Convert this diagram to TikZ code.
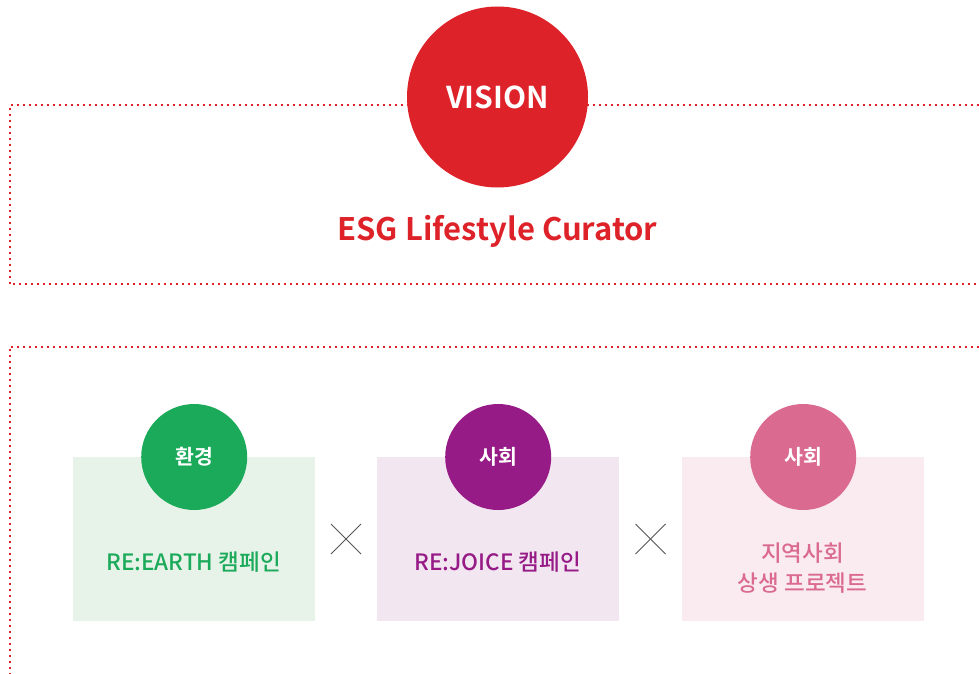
\documentclass[tikz,border=0pt]{standalone}
\usepackage{fontspec}
\setmainfont{Noto Sans CJK KR}[BoldFont={Noto Sans CJK KR Bold}]
\newfontfamily\krmed{Noto Sans CJK KR Medium}
\definecolor{vred}{HTML}{DE2229}
\definecolor{cgreen}{HTML}{1BAA5A}
\definecolor{cpurple}{HTML}{961B86}
\definecolor{cpink}{HTML}{DB6A90}
\definecolor{fgreen}{HTML}{E7F3E9}
\definecolor{fpurple}{HTML}{F2E6F1}
\definecolor{fpink}{HTML}{F9EBEF}
\definecolor{xgray}{HTML}{555555}
\begin{document}
\begin{tikzpicture}[x=1pt,y=-1pt,
  dotline/.style={vred,line width=2pt,dash pattern=on 2pt off 4pt},
  catbox/.style={rectangle,minimum width=242pt,minimum height=164pt,inner sep=0pt,anchor=north west},
  catcircle/.style={circle,minimum size=106pt,inner sep=0pt,text=white,font=\fontsize{20.5}{24}\selectfont\bfseries},
  catlabel/.style={font=\fontsize{22.5}{30}\krmed,align=center},
  crossmark/.style={xgray,line width=0.9pt}]
\useasboundingbox (0,0) rectangle (979,674);
% dotted frames
\draw[dotline] (979,105.5) -- (9.5,105.5) -- (9.5,284) -- (979,284);
\draw[dotline] (979,346.5) -- (9.5,346.5) -- (9.5,674);
% vision
\node[circle,fill=vred,minimum size=181pt,inner sep=0pt,text=white,font=\fontsize{30}{36}\selectfont\bfseries] (vision) at (497.5,97) {VISION};
\node[text=vred,font=\fontsize{31}{36}\selectfont\bfseries] (esg) at (497.5,231) {ESG Lifestyle Curator};
% boxes
\node[catbox,fill=fgreen] (b1) at (73,457) {};
\node[catbox,fill=fpurple] (b2) at (377,457) {};
\node[catbox,fill=fpink] (b3) at (682,457) {};
\node[catcircle,fill=cgreen] (c1) at (b1.north) {환경};
\node[catcircle,fill=cpurple] (c2) at (b2.north) {사회};
\node[catcircle,fill=cpink] (c3) at (b3.north) {사회};
\node[catlabel,text=cgreen] (t1) at (193.5,562) {RE:EARTH 캠페인};
\node[catlabel,text=cpurple] (t2) at (497.5,562) {RE:JOICE 캠페인};
\node[catlabel,text=cpink] (t3) at (802.5,568) {지역사회\\상생 프로젝트};
% crosses
\coordinate (x1) at (346,539);
\coordinate (x2) at (650.5,539);
\draw[crossmark] ([shift={(-15,-15)}]x1) -- ([shift={(15,15)}]x1);
\draw[crossmark] ([shift={(-15,15)}]x1) -- ([shift={(15,-15)}]x1);
\draw[crossmark] ([shift={(-15,-15)}]x2) -- ([shift={(15,15)}]x2);
\draw[crossmark] ([shift={(-15,15)}]x2) -- ([shift={(15,-15)}]x2);
\end{tikzpicture}
\end{document}
